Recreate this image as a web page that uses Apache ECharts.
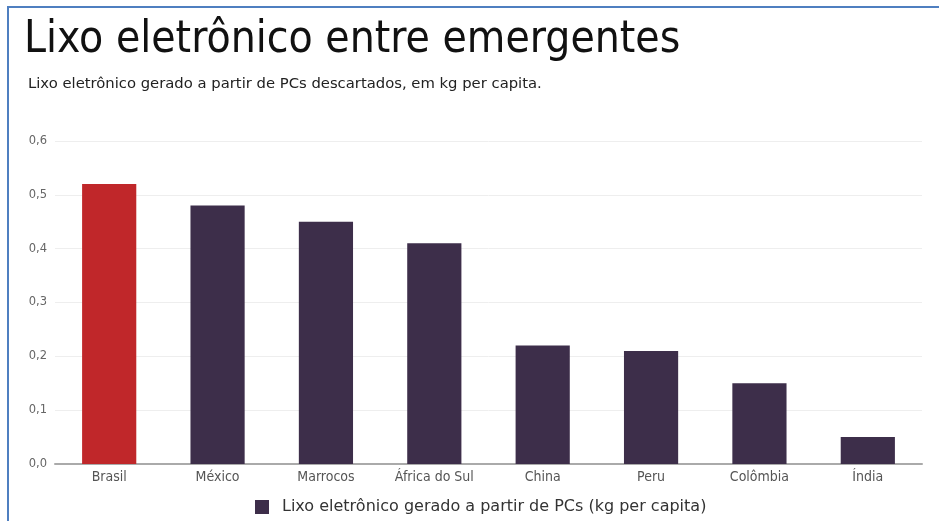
<!DOCTYPE html>
<html><head><meta charset="utf-8">
<script src="https://cdn.jsdelivr.net/npm/echarts@6/dist/echarts.min.js"></script>
<style>
html,body{margin:0;padding:0;background:#fff;}
#c{position:absolute;left:0;top:0;width:943px;height:521px;}
#b{position:absolute;left:7px;top:6px;width:930px;height:520px;border-left:2px solid #4f7fc0;border-top:2px solid #4f7fc0;pointer-events:none;}
</style></head>
<body>
<div id="c"></div><div id="b"></div>
<script>
const categories = ['Brasil','México','Marrocos','África do Sul','China','Peru','Colômbia','Índia'];
const values = [0.52,0.48,0.45,0.41,0.22,0.21,0.15,0.05];
const seriesName = 'Lixo eletrônico gerado a partir de PCs (kg per capita)';
const highlight = 'Brasil';

const chart = echarts.init(document.getElementById('c'));
const FC = '"DejaVu Sans Condensed","DejaVu Sans",sans-serif';
const F = '"DejaVu Sans",sans-serif';
chart.setOption({
  animation:false,
  title:[{text:'Lixo eletrônico entre emergentes',left:19,top:14,textStyle:{fontFamily:FC,fontSize:44,fontWeight:'normal',color:'#111'}},
         {text:'Lixo eletrônico gerado a partir de PCs descartados, em kg per capita.',left:23,top:72,textStyle:{fontFamily:F,fontSize:14.8,fontWeight:'normal',color:'#222'}}],
  legend:{bottom:1,left:250,itemWidth:14,itemHeight:14,icon:'rect',textStyle:{fontFamily:F,fontSize:16,color:'#333',padding:[0,0,0,8]},data:[seriesName]},
  grid:{left:55,right:21,top:141,bottom:57},
  xAxis:{type:'category',data:categories,
    axisLine:{lineStyle:{color:'#aaa',width:2}},
    axisTick:{alignWithLabel:true,length:3,lineStyle:{color:'#aaa'}},
    axisLabel:{interval:0,fontFamily:FC,fontSize:14,color:'#555',margin:6}},
  yAxis:{type:'value',min:0,max:0.6,interval:0.1,
    axisLabel:{fontFamily:F,fontSize:11.5,color:'#666',margin:8,formatter:v=>v.toFixed(1).replace('.',',')},
    splitLine:{lineStyle:{color:'#eee'}},axisLine:{show:false},axisTick:{show:false}},
  series:[{name:seriesName,type:'bar',barWidth:'50%',itemStyle:{color:'#3d2e4a'},
    data:values.map((v,i)=>({value:v,itemStyle:{color:categories[i]===highlight?'#c0272a':'#3d2e4a'}}))}]
});
</script></body></html>
